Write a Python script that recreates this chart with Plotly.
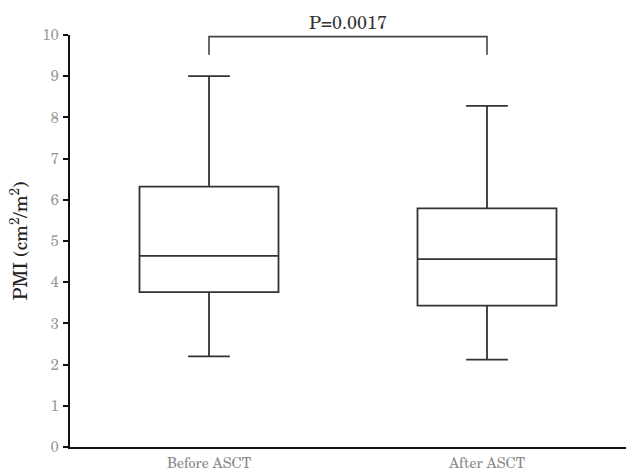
import plotly.graph_objects as go

# Summary statistics of PMI (cm²/m²) for each group
groups = ["Before ASCT", "After ASCT"]
lower_whisker = [2.20, 2.12]
q1_values = [3.76, 3.43]
medians = [4.64, 4.56]
q3_values = [6.32, 5.79]
upper_whisker = [9.00, 8.28]
y_ticks = [0, 1, 2, 3, 4, 5, 6, 7, 8, 9, 10]
p_label = "P=0.0017"

serif = "Century Schoolbook, TeX Gyre Schola, DejaVu Serif, Liberation Serif, serif"

fig = go.Figure()
fig.add_trace(go.Box(
    x=groups,
    q1=q1_values,
    median=medians,
    q3=q3_values,
    lowerfence=lower_whisker,
    upperfence=upper_whisker,
    width=0.5,
    whiskerwidth=0.3,
    fillcolor="white",
    line=dict(color="#333333", width=1.8),
    boxpoints=False,
    hoverinfo="skip",
    showlegend=False,
))

# Significance bracket between the two groups
fig.add_shape(type="path", xref="x", yref="y",
              path="M 0,9.52 L 0,9.96 L 1,9.96 L 1,9.52",
              line=dict(color="#444444", width=1.6))
fig.add_annotation(x=0.5, y=9.96, xref="x", yref="y", text=p_label,
                   showarrow=False, yanchor="bottom", yshift=0,
                   font=dict(family=serif, size=18, color="#333333"))

fig.update_layout(
    width=626, height=475,
    margin=dict(l=70, r=0, t=35, b=28),
    plot_bgcolor="white", paper_bgcolor="white",
    font=dict(family=serif),
)
fig.update_xaxes(
    range=[-0.5, 1.5], automargin=False,
    showline=True, linecolor="#111111", linewidth=2.2,
    showgrid=False, zeroline=False, ticks="",
    ticklabelstandoff=2,
    tickfont=dict(family=serif, size=14, color="#8a8a8a"),
)
fig.update_yaxes(
    range=[0, 10], tickvals=y_ticks, automargin=False,
    showline=True, linecolor="#111111", linewidth=2.2,
    showgrid=False, zeroline=False,
    ticks="outside", ticklen=5, tickwidth=2, tickcolor="#111111",
    ticklabelstandoff=1,
    tickfont=dict(family=serif, size=15, color="#9a9a9a"),
    title=dict(text="PMI (cm<sup>2</sup>/m<sup>2</sup>)",
               font=dict(family=serif, size=19, color="#222222"), standoff=10),
)

fig.write_html("out.html")
